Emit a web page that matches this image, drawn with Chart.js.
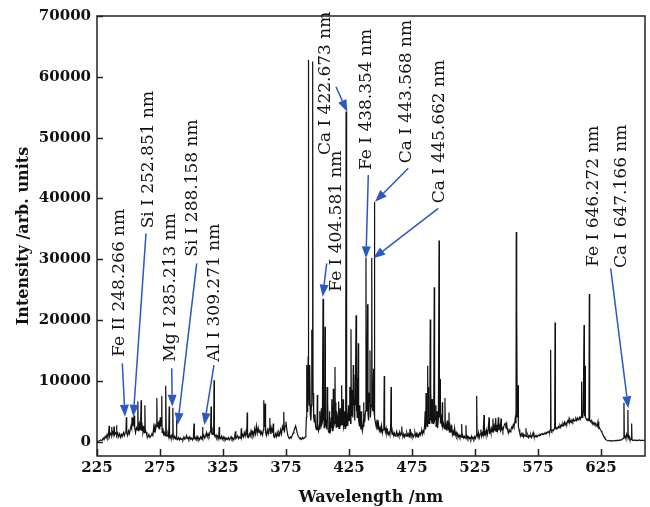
<!DOCTYPE html>
<html>
<head>
<meta charset="utf-8">
<script src="https://cdn.jsdelivr.net/npm/chart.js@4.4.1/dist/chart.umd.min.js"></script>
<style>
  html, body { margin: 0; padding: 0; background: #ffffff; }
  #wrap { width: 650px; height: 507px; }
</style>
</head>
<body>
<div id="wrap"><canvas id="c" width="650" height="507"></canvas></div>
<script>
// ---------------- DATA ----------------
// Spectrum 225-330 nm : [wavelength nm, intensity arb. units]
const spectrumUV = [
[225,0],[226,100],[227,150],[228,300],[229,200],[230,600],[230.6,350],[231.5,900],[232.2,600],[233,1200],[233.6,800],[234.3,1500],[234.6,2600],[234.9,900],[235.6,1400],[236.3,1100],[236.6,2400],[236.9,1000],[237.6,1600],[238.2,1200],[238.5,2500],[238.8,1100],[239.5,1500],[240.2,1300],[240.5,2700],[240.8,1000],[241.5,1400],[242.2,800],[243,1300],[243.8,700],[244.5,1200],[245.2,900],[246,1500],[246.8,1000],[247.5,1600],[248.0,1800],[248.3,4000],[248.6,1400],[249.3,1000],[250,1800],[250.7,1300],[251.4,2000],[252,2600],[252.5,2200],[252.8,4000],[253.1,2600],[253.5,3800],[253.9,3000],[254.5,4300],[254.9,2400],[255.6,1500],[256.3,2300],[256.9,2000],[257.4,6600],[257.7,1800],[258.2,2600],[258.6,3000],[259.2,2000],[259.6,2400],[260,6800],[260.3,1800],[260.9,2600],[261.5,1500],[262.2,2200],[262.7,1500],[263,6000],[263.3,2000],[263.9,1600],[264.6,1000],[265.4,800],[266.2,1200],[267,700],[267.8,900],[268.6,1300],[269.3,1000],[270,2400],[270.5,1600],[271,3000],[271.5,2000],[272,2600],[272.5,7200],[272.8,2500],[273.4,3200],[273.9,2200],[274.4,3500],[274.8,2000],[275.2,4000],[275.6,2500],[276,3000],[276.4,7500],[276.7,1500],[277.3,2200],[277.9,1200],[278.5,1500],[279,1000],[279.4,1500],[279.7,9200],[280,1200],[280.6,900],[281.3,1300],[281.9,800],[282.3,5800],[282.6,800],[283.2,600],[283.8,1000],[284.4,700],[284.9,1200],[285.2,5600],[285.5,700],[286.1,600],[286.7,900],[287.3,500],[287.8,700],[288.1,3600],[288.4,500],[289,400],[289.7,700],[290.4,300],[291.1,600],[291.8,350],[292.5,500],[293.2,300],[294,800],[294.7,400],[295.4,600],[296.1,1000],[296.6,500],[297.3,700],[298,400],[298.7,800],[299.4,400],[300.1,600],[300.8,300],[301.5,700],[302,3000],[302.3,500],[303,700],[303.7,300],[304.4,900],[305.1,400],[305.8,600],[306.5,300],[307.2,800],[307.9,500],[308.5,900],[308.8,2400],[309.1,600],[309.8,1100],[310.5,600],[311.2,900],[311.9,1500],[312.5,800],[313.2,1300],[313.9,900],[314.6,1500],[315.2,1800],[315.5,5800],[315.8,1500],[316.4,1200],[317,1900],[317.6,1500],[317.9,10100],[318.2,1200],[318.8,800],[319.5,1100],[320.2,600],[320.9,900],[321.6,500],[322,2400],[322.3,700],[323,500],[323.7,900],[324.4,400],[325.1,800],[325.8,400],[326.5,700],[327.2,300],[327.9,600],[328.6,400],[329.3,700]
];
// Spectrum 330-450 nm
const spectrumViolet = [
[330,300],[330.7,500],[331.4,800],[332.1,400],[332.8,600],[333.5,300],[334.2,700],[334.9,1700],[335.2,500],[335.9,700],[336.6,1000],[337.3,500],[338,800],[338.7,600],[339.2,900],[339.5,2200],[339.8,700],[340.5,1200],[341.2,800],[341.9,1500],[342.6,900],[343.3,1700],[343.9,1200],[344.2,4800],[344.5,900],[345.2,700],[345.9,1300],[346.6,900],[347.3,1800],[348,1100],[348.7,1600],[349.4,1000],[350.1,2100],[350.8,1300],[351.5,2600],[352.2,1400],[352.9,2300],[353.6,1500],[354.3,2000],[355,1200],[355.7,1600],[356.4,1100],[357.1,2000],[357.4,6800],[357.7,2500],[358.2,3000],[358.5,6300],[358.8,1500],[359.5,1000],[360.2,1900],[360.9,1300],[361.6,2200],[362.2,3900],[362.5,1300],[363.2,2300],[363.9,1500],[364.5,1700],[364.9,3000],[365.2,900],[365.9,700],[366.6,1300],[367.3,800],[368,1500],[368.7,900],[369.4,1600],[370.1,1200],[370.8,2000],[371.5,1300],[372.2,2500],[372.8,2000],[373.1,2800],[373.4,4900],[373.7,1500],[374.3,2600],[375,3300],[375.7,2000],[376.4,1100],[377.1,700],[377.8,500],[378.5,800],[379.2,600],[379.9,1000],[380.6,1400],[381.3,1800],[382,2200],[382.7,2600],[383.3,2000],[384,1400],[384.7,900],[385.4,700],[386.1,500],[386.8,600],[387.5,400],[388.2,700],[388.9,500],[389.6,600],
[390.3,800],[390.8,1500],[391.2,4000],[391.5,12600],[391.8,5000],[392.1,9000],[392.4,7000],[392.6,14000],[392.8,62800],[393.0,9000],[393.4,6000],[393.7,8000],[394.0,12600],[394.3,4500],[394.8,3500],[395.2,6000],[395.5,18400],[395.8,8000],[396.1,13000],[396.3,62500],[396.5,8000],[397,4000],[397.5,3200],
[398,4500],[398.5,2500],[399.1,2000],[399.6,2600],[399.9,7700],[400.2,2400],[400.8,1800],[401.4,2600],[401.7,5000],[402,2000],[402.6,3000],[403.1,5500],[403.4,2800],[403.9,3200],[404.4,23500],[404.7,3500],[405.0,8000],[405.3,2300],[405.8,3200],[406.0,18900],[406.3,2500],[406.9,3600],[407.4,2000],[407.6,9000],[407.9,3400],[408.3,6500],[408.6,1800],[409.2,1500],[409.5,5000],[409.8,2600],[410.3,1900],[410.9,4000],[411.2,2200],[411.5,7000],[411.8,1800],[412.3,3500],[412.6,8700],[412.9,2500],[413.5,3000],[413.9,12300],[414.2,3000],[414.6,6500],[414.8,2400],[415.3,5000],[415.6,2500],[416.2,3000],[416.5,4500],[416.8,6600],[417.1,2200],[417.7,3200],[418.0,5500],[418.3,2500],[418.9,3200],[419.2,9300],[419.5,2800],[420.1,3600],[420.4,7000],[420.7,2400],[421.3,3000],[421.6,5000],[421.9,2200],[422.4,3500],[422.7,54300],[423,2500],[423.3,6500],[423.6,3400],[424.0,4500],[424.2,2600],[424.8,6000],[425.2,3500],[425.5,9000],[425.8,4600],[426.3,3000],[426.6,18500],[426.9,5000],[427.4,4200],[427.8,8500],[428.1,4000],[428.4,12600],[428.7,6000],[429.2,7000],[429.6,3500],[429.9,11000],[430.1,6000],[430.6,20800],[430.9,5000],[431.2,9000],[431.5,4000],[431.8,10500],[432.1,4500],[432.4,16200],[432.7,3500],[433.3,2600],[433.6,6000],[433.9,3500],[434.5,2000],[434.8,5000],[435.1,2800],[435.7,1800],[436.3,3000],[436.6,6500],[436.9,2400],[437.2,4500],[437.5,3200],
[438.1,5000],[438.5,30200],[438.8,6000],[439.3,5000],[439.8,22600],[440.1,4500],[440.6,3500],[441.1,8000],[441.7,15000],[442,4000],[442.6,6000],[443.1,30200],[443.4,6000],[444,5000],[444.5,12000],[444.9,5000],[445.2,39400],[445.5,4000],[446.1,3000],[446.7,2400],[447.3,3600],[447.9,2000],[448.5,2800],[449.1,1800],[449.7,2300]
];
// Spectrum 450-660 nm
const spectrumVisible = [
[450.3,1500],[450.9,2600],[451.5,1400],[452.1,2000],[452.7,3000],[453.0,10800],[453.3,2500],[453.9,1600],[454.5,2200],[455.1,1300],[455.7,1800],[456.3,1200],[456.9,1500],[457.5,1100],[458.1,2500],[458.4,9000],[458.7,1800],[459.3,1200],[459.9,1600],[460.5,1000],[461.1,1400],[461.7,900],[462.3,1200],[462.9,1700],[463.5,1000],[464.1,1300],[464.7,900],[465.3,1600],[465.9,1100],[466.5,1400],[466.9,2500],[467.3,1100],[467.9,900],[468.5,1300],[469.1,800],[469.7,1200],[470.3,900],[470.9,1500],[471.5,1000],[472.1,1300],[472.7,800],[473.2,1200],[473.5,2100],[473.8,1000],[474.4,1400],[475,900],[475.6,1200],[476.2,800],[476.8,1100],[477.4,1500],[478,900],[478.6,1300],[479.2,800],[479.8,1200],[480.4,900],[481,1400],[481.6,1100],[482.2,1600],[482.7,1700],[483.2,1200],[483.8,1800],[484.4,1500],
[485,2500],[485.5,5000],[485.9,2000],[486.2,8000],[486.5,3500],[487.1,2500],[487.5,12500],[487.8,3000],[488.0,9000],[488.3,4000],[488.8,3000],[489.2,6000],[489.5,20100],[489.8,3500],[490.0,8500],[490.3,5000],[490.8,3000],[491.0,7000],[491.3,4500],[491.8,3000],[492.3,6000],[492.7,25400],[493,3500],[493.6,4000],[494.0,6000],[494.2,2500],[494.8,3600],[495.0,5000],[495.4,2200],[496,4000],[496.5,33100],[496.8,4000],[497.3,10300],[497.6,3000],[498.2,3800],[498.8,2500],[499.1,6500],[499.4,2500],[500,3000],[500.6,2200],[501.2,7200],[501.5,2000],[502.1,2800],[502.7,1800],[503.3,3500],[503.9,2000],[504.4,4800],[504.7,1500],[505.3,2500],[505.9,1500],[506.5,2800],[507.1,1200],[507.7,1700],[508.3,1000],[508.9,2200],[509.5,1100],[510.1,1500],[510.7,900],[511.3,1300],[511.9,800],[512.5,1100],[513.1,700],[513.7,1000],[514.2,800],[514.5,2900],[514.8,700],[515.4,1000],[516,600],[516.6,900],[517.2,600],[517.9,2700],[518.2,600],[518.8,900],[519.4,500],[520,800],[520.6,500],[521.2,700],[521.8,400],[522.4,900],[523,500],[523.6,700],[524.2,400],[524.8,800],[525.4,500],[526,1000],[526.4,7500],[526.7,1200],[527.3,800],[527.9,1500],[528.5,700],[529.1,1200],[529.7,2000],[530.3,900],[530.9,1400],[531.5,1000],[532.2,4400],[532.5,1000],[533.1,1700],[533.7,1100],[534.3,1900],[534.9,1200],[535.5,2000],[536.2,4000],[536.5,1300],[537.1,2000],[537.7,1400],[538.3,2200],[538.9,1600],[539.3,3800],[539.7,1500],[540.3,2500],[540.9,1800],[541.5,3900],[541.8,1700],[542.4,2800],[543,2000],[543.6,4000],[543.9,1900],[544.5,2600],[545.1,2000],[545.7,3800],[546,2000],[546.6,2300],[547.2,1800],[547.8,2400],[548.4,2800],[549,3000],[549.6,2600],[550.2,3000],[550.6,2200],[551.2,1700],[551.8,1500],[552.4,1900],[553,1600],[553.6,2000],[554.2,2400],[554.8,2200],[555.4,2800],[556,2400],[556.6,3200],[557.3,4400],[557.6,3000],[557.8,34500],[558.0,6000],[558.3,22200],[558.6,4000],[559.2,9300],[559.5,2500],[560,2000],[560.6,1400],[561.2,1000],[561.8,1300],[562.4,900],[563,1500],[563.6,800],[564.2,1100],[564.8,900],[565.5,2200],[565.8,900],[566.4,800],[567,1100],[567.6,700],[568.2,1000],[568.8,800],[569.4,1100],[570,700],[570.6,1000],[571.2,1500],[571.8,900],[572.4,800],[573,1000],[573.6,800],[574.2,1000],[574.8,900],[575.4,1100],[576,1000],[576.6,1200],[577.2,1100],[577.8,1300],[578.4,1200],[579,1300],[579.6,1200],[580.2,1400],[580.8,1300],[581.4,1500],[582,1400],[582.6,1600],[583.2,1500],[583.8,1700],[584.4,1600],[584.8,2000],[585.1,15100],[585.4,2000],[586,1700],[586.6,1900],[587.2,1800],[587.8,2100],[588.3,2400],[588.6,19600],[588.9,2300],[589.5,2100],[590.1,2300],[590.7,2200],[591.3,2500],[591.9,2300],[592.5,2700],[593.1,2400],[593.7,2800],[594.3,2600],[594.9,3000],[595.5,2700],[596.1,3200],[596.7,2800],[597.3,3100],[597.9,2900],[598.5,3400],[599.1,3200],[599.7,3800],[600.3,3100],[600.9,3400],[601.5,3200],[602.1,3600],[602.7,3300],[603.3,3700],[603.9,3400],[604.5,3500],[605.1,3800],[605.7,3500],[606.3,3900],[606.9,3600],[607.5,3800],[608.1,4000],[608.7,3700],[609.4,4200],[609.7,9900],[610,4000],[610.6,4500],[611,5000],[611.6,19200],[611.9,4200],[612.4,12500],[612.7,4000],[613.3,3800],[613.9,3600],[614.5,3700],[615.1,3500],[615.5,4000],[615.8,24300],[616.1,3500],[616.7,3300],[617.3,3500],[617.9,3100],[618.5,3200],[619.1,2900],[619.7,3100],[620.3,2800],[620.9,3000],[621.5,2700],[622.1,2500],[622.7,3300],[623.3,2200],[623.9,2300],[624.5,2000],[625.1,1800],[625.7,1600],[626.3,1300],[626.9,1000],[627.5,800],[628.1,600],[628.7,400],[629.3,300],[630,200],[631,150],[632,200],[633,100],[634,180],[635,120],[636,200],[637,150],[638,250],[639,180],[640,300],[641,250],[642,400],[642.8,600],[643.3,6400],[643.6,700],[644.2,900],[644.8,500],[645.4,1200],[645.9,800],[646.4,5200],[646.7,600],[647.3,900],[647.9,400],[648.5,300],[649.1,500],[649.4,3000],[649.7,300],[650.5,200],[651.5,300],[652.5,200],[653.5,250],[654.5,200],[655.5,300],[656.5,200],[657.5,250],[658.5,200],[659.5,250],[660,200]
];

// Axis ticks
const xTickValues = [225, 275, 325, 375, 425, 475, 525, 575, 625];
const yTickValues = [0, 10000, 20000, 30000, 40000, 50000, 60000, 70000];

// Line annotations (label, text anchor [wl, intensity] = bottom of upright text, arrow from/to)
const annLabels = ['Fe II 248.266 nm','Si I 252.851 nm','Mg I 285.213 nm','Si I 288.158 nm','Al I 309.271 nm',
  'Fe I 404.581 nm','Ca I 422.673 nm','Fe I 438.354 nm','Ca I 443.568 nm','Ca I 445.662 nm',
  'Fe I 646.272 nm','Ca I 647.166 nm'];
const annTextAt = [[242.86,13970],[266.28,35080],[283.74,13150],[301.2,30410],[318.67,13150],
  [415.5,24660],[406.78,47130],[439.32,44670],[471.07,45770],[497.27,39190],
  [619.51,28770],[641.74,28560]];
const annArrowFrom = [[245.08,12890],[263.9,34260],[284.3,12070],[304.14,29330],[317.87,12610],
  [407.33,29330],[414.71,58360],[440.35,43850],[472.1,44950],[495.92,38370],
  null,[632.76,28510]];
const annArrowTo = [[247.23,4110],[253.81,4110],[284.77,5750],[289.06,2750],[310.17,2750],
  [404.16,23840],[423.68,54250],[438.52,30150],[445.67,39460],[444.32,30150],
  null,[646.74,5490]];

// ---------------- CHART ----------------
const points = spectrumUV.concat(spectrumViolet, spectrumVisible).map(p => ({x: p[0], y: p[1]}));

const FONT = "'DejaVu Serif', serif";
const TEXT = '#111111';
const ARROW = '#2d57c2';

const framePlugin = {
  id: 'frameAndTicks',
  afterDraw(chart) {
    const {ctx, chartArea: a, scales: {x, y}} = chart;
    ctx.save();
    ctx.strokeStyle = '#222222';
    ctx.lineWidth = 1.5;
    ctx.strokeRect(a.left, a.top, a.right - a.left, a.bottom - a.top);
    ctx.beginPath();
    yTickValues.forEach(v => {
      const py = Math.round(y.getPixelForValue(v)) + 0.5;
      ctx.moveTo(a.left, py); ctx.lineTo(a.left + 6, py);
    });
    xTickValues.forEach(v => {
      const px = Math.round(x.getPixelForValue(v)) + 0.5;
      ctx.moveTo(px, a.bottom); ctx.lineTo(px, a.bottom - 7);
    });
    ctx.stroke();
    ctx.restore();
  }
};

const annPlugin = {
  id: 'lineLabels',
  afterDatasetsDraw(chart) {
    const {ctx, scales: {x, y}} = chart;
    ctx.save();
    ctx.font = "17px " + FONT;
    ctx.fillStyle = TEXT;
    ctx.textAlign = 'left';
    ctx.textBaseline = 'middle';
    annLabels.forEach((lab, i) => {
      const px = x.getPixelForValue(annTextAt[i][0]);
      const py = y.getPixelForValue(annTextAt[i][1]);
      ctx.save();
      ctx.translate(px, py);
      ctx.rotate(-Math.PI / 2);
      ctx.fillText(lab, 0, 0);
      ctx.restore();
    });
    ctx.strokeStyle = ARROW;
    ctx.fillStyle = ARROW;
    ctx.lineWidth = 1.5;
    annLabels.forEach((lab, i) => {
      if (!annArrowFrom[i]) return;
      const x0 = x.getPixelForValue(annArrowFrom[i][0]);
      const y0 = y.getPixelForValue(annArrowFrom[i][1]);
      const x1 = x.getPixelForValue(annArrowTo[i][0]);
      const y1 = y.getPixelForValue(annArrowTo[i][1]);
      const ang = Math.atan2(y1 - y0, x1 - x0);
      const hl = 12, hw = 4.5;
      const bx = x1 - hl * Math.cos(ang), by = y1 - hl * Math.sin(ang);
      ctx.beginPath();
      ctx.moveTo(x0, y0); ctx.lineTo(bx, by);
      ctx.stroke();
      ctx.beginPath();
      ctx.moveTo(x1, y1);
      ctx.lineTo(bx + hw * Math.sin(ang), by - hw * Math.cos(ang));
      ctx.lineTo(bx - hw * Math.sin(ang), by + hw * Math.cos(ang));
      ctx.closePath();
      ctx.fill();
    });
    ctx.restore();
  }
};

new Chart(document.getElementById('c'), {
  type: 'line',
  data: {
    datasets: [{
      data: points,
      borderColor: '#111111',
      borderWidth: 1.2,
      pointRadius: 0,
      tension: 0,
      fill: false
    }]
  },
  options: {
    responsive: false,
    animation: false,
    events: [],
    layout: { padding: { left: 0, right: 5, top: 16, bottom: 0 } },
    plugins: { legend: { display: false }, tooltip: { enabled: false } },
    scales: {
      x: {
        type: 'linear', min: 225, max: 660,
        afterBuildTicks: s => { s.ticks = xTickValues.map(v => ({ value: v })); },
        afterFit: s => { s.height = 51; },
        grid: { display: false, drawTicks: false },
        border: { display: false },
        ticks: { color: TEXT, padding: 3, font: { family: FONT, size: 15, weight: 'bold' },
                 callback: v => String(v) },
        title: { display: true, text: 'Wavelength /nm', color: TEXT,
                 font: { family: FONT, size: 16, weight: 'bold' }, padding: { top: 0, bottom: 0 } }
      },
      y: {
        type: 'linear', min: -2350, max: 70000,
        afterBuildTicks: s => { s.ticks = yTickValues.map(v => ({ value: v })); },
        afterFit: s => { s.width = 97; },
        grid: { display: false, drawTicks: false },
        border: { display: false },
        ticks: { color: TEXT, padding: 6, font: { family: FONT, size: 15, weight: 'bold' },
                 callback: v => String(v) },
        title: { display: true, text: 'Intensity /arb. units', color: TEXT,
                 font: { family: FONT, size: 16, weight: 'bold' }, padding: { top: 14, bottom: 0 } }
      }
    }
  },
  plugins: [framePlugin, annPlugin]
});
</script>
</body>
</html>
